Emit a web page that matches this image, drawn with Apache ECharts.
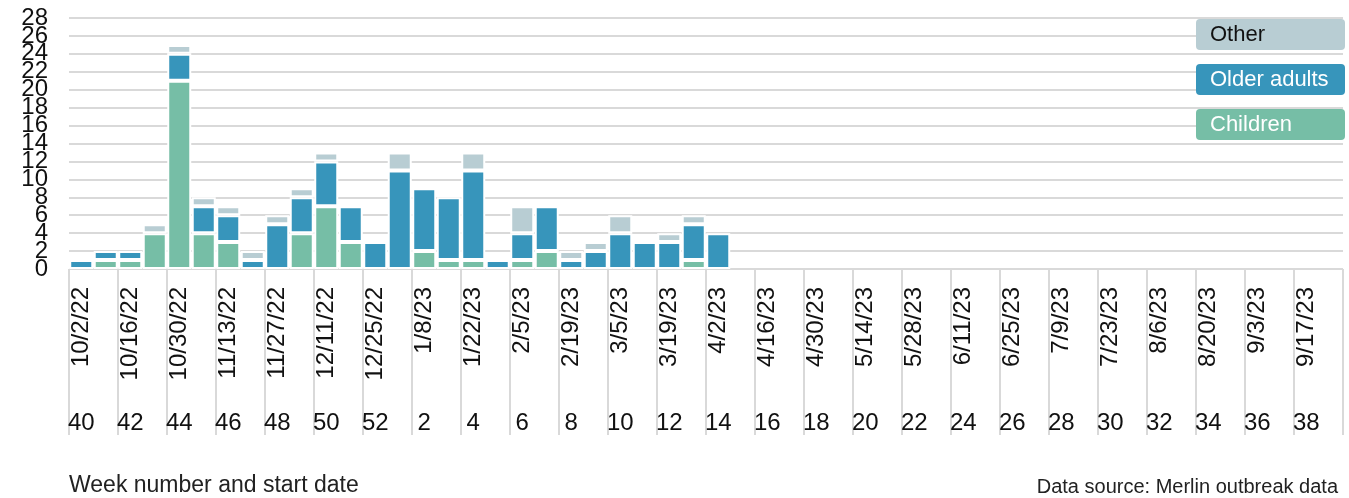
<!DOCTYPE html>
<html>
<head>
    <meta charset="UTF-8">
    <title>Outbreaks by week</title>
    <script src="https://cdn.jsdelivr.net/npm/echarts@6/dist/echarts.min.js"></script>
    <style>
        html, body { margin: 0; padding: 0; background: #fff; }
    </style>
</head>
<body>
<div id="chart" style="width: 1349px;height:498px;"></div>

<script type="text/javascript">
    // week numbers and week start dates
    var weeks = ['40','41','42','43','44','45','46','47','48','49','50','51','52',
        '1','2','3','4','5','6','7','8','9','10','11','12','13','14','15','16','17','18','19',
        '20','21','22','23','24','25','26','27','28','29','30','31','32','33','34','35','36','37','38','39'];
    var startDates = ['10/2/22','10/9/22','10/16/22','10/23/22','10/30/22','11/6/22','11/13/22','11/20/22',
        '11/27/22','12/4/22','12/11/22','12/18/22','12/25/22','1/1/23','1/8/23','1/15/23','1/22/23','1/29/23',
        '2/5/23','2/12/23','2/19/23','2/26/23','3/5/23','3/12/23','3/19/23','3/26/23','4/2/23','4/9/23',
        '4/16/23','4/23/23','4/30/23','5/7/23','5/14/23','5/21/23','5/28/23','6/4/23','6/11/23','6/18/23',
        '6/25/23','7/2/23','7/9/23','7/16/23','7/23/23','7/30/23','8/6/23','8/13/23','8/20/23','8/27/23',
        '9/3/23','9/10/23','9/17/23','9/24/23'];

    // outbreak counts per week
    var children = [0,1,1,4,21,4,3,0,0,4,7,3,0,0,2,1,1,0,1,2,0,0,0,0,0,1,0,
        0,0,0,0,0,0,0,0,0,0,0,0,0,0,0,0,0,0,0,0,0,0,0,0,0];
    var olderAdults = [1,1,1,0,3,3,3,1,5,4,5,4,3,11,7,7,10,1,3,5,1,2,4,3,3,4,4,
        0,0,0,0,0,0,0,0,0,0,0,0,0,0,0,0,0,0,0,0,0,0,0,0,0];
    var other = [0,0,0,1,1,1,1,1,1,1,1,0,0,2,0,0,2,0,3,0,1,1,2,0,1,1,0,
        0,0,0,0,0,0,0,0,0,0,0,0,0,0,0,0,0,0,0,0,0,0,0,0,0];

    var yTicks = {min: 0, max: 28, interval: 2};

    var FONT = "'Liberation Sans', Arial, sans-serif";
    var colors = {children: '#76bea6', older: '#3795bb', other: '#b8cdd3'};

    function noZero(arr) {
        return arr.map(function (v) { return v === 0 ? null : v; });
    }

    function legendItem(name, bg, fg) {
        return {
            name: name,
            icon: 'none',
            textStyle: {
                backgroundColor: bg,
                color: fg,
                fontSize: 22,
                lineHeight: 23,
                width: 123,
                padding: [4, 12, 4, 14],
                borderRadius: 4
            }
        };
    }

    // the y labels are taller than their spacing, so they are split over two
    // axes (0,4,8.. and 2,6,10..) to stop echarts hiding the overlapping ones
    function yAxisDef(rest, showGrid) {
        return {
            type: 'value',
            position: 'left',
            min: yTicks.min,
            max: yTicks.max,
            interval: yTicks.interval,
            axisLine: {show: false},
            axisTick: {show: false},
            axisLabel: {
                margin: 21,
                fontSize: 24,
                color: '#111',
                fontFamily: FONT,
                showMinLabel: true,
                showMaxLabel: true,
                formatter: function (v) {
                    return (v % 4 === rest) ? String(v) : '';
                }
            },
            splitLine: {show: showGrid, lineStyle: {color: '#d9d9d9', width: 2}}
        };
    }

    var chart = echarts.init(document.getElementById('chart'));

    var barStyle = function (c) {
        return {color: c, borderColor: '#fff', borderWidth: 2};
    };

    var option = {
        animation: false,
        textStyle: {fontFamily: FONT},
        title: [
            {
                text: 'Week number and start date',
                left: 69, top: 474,
                padding: 0,
                textStyle: {fontSize: 23, fontWeight: 'normal', color: '#222', fontFamily: FONT}
            },
            {
                text: 'Data source: Merlin outbreak data',
                right: 11, top: 477,
                padding: 0,
                textStyle: {fontSize: 20, fontWeight: 'normal', color: '#222', fontFamily: FONT}
            }
        ],
        legend: {
            orient: 'vertical',
            right: 4,
            top: 19,
            padding: 0,
            itemGap: 14,
            itemWidth: 0,
            itemHeight: 0,
            selectedMode: false,
            data: [
                legendItem('Other', colors.other, '#111'),
                legendItem('Older adults', colors.older, '#fff'),
                legendItem('Children', colors.children, '#fff')
            ]
        },
        grid: {left: 69, right: 6, top: 18, bottom: 229},
        xAxis: [
            {
                type: 'category',
                data: startDates,
                position: 'bottom',
                axisLine: {show: false},
                axisTick: {
                    show: true,
                    interval: 1,
                    length: 166,
                    lineStyle: {color: '#d9d9d9', width: 2}
                },
                axisLabel: {
                    interval: 1,
                    rotate: 90,
                    margin: 18,
                    fontSize: 24,
                    color: '#111',
                    fontFamily: FONT
                }
            },
            {
                type: 'category',
                data: weeks,
                position: 'bottom',
                axisLine: {show: false},
                axisTick: {show: false},
                axisLabel: {
                    interval: 1,
                    margin: 142,
                    fontSize: 24,
                    color: '#111',
                    fontFamily: FONT
                }
            }
        ],
        yAxis: [yAxisDef(0, true), yAxisDef(2, false)],
        series: [
            {
                name: 'Children',
                type: 'bar',
                stack: 'total',
                barCategoryGap: '2%',
                data: noZero(children),
                itemStyle: barStyle(colors.children)
            },
            {
                name: 'Older adults',
                type: 'bar',
                stack: 'total',
                data: noZero(olderAdults),
                itemStyle: barStyle(colors.older)
            },
            {
                name: 'Other',
                type: 'bar',
                stack: 'total',
                data: noZero(other),
                itemStyle: barStyle(colors.other)
            }
        ]
    };

    chart.setOption(option);
</script>
</body>
</html>
